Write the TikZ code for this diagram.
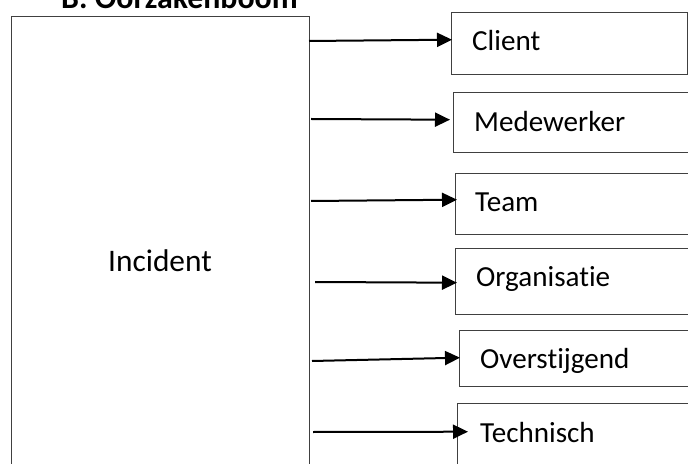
\documentclass[tikz,border=0pt]{standalone}
\usepackage{fontspec}
\setmainfont{Carlito}[Ligatures={NoCommon}]
\usetikzlibrary{arrows.meta}
\tikzset{
  box/.style={draw=black!75, line width=1.4bp, anchor=north west, inner sep=0pt, minimum width=240bp},
  lbl/.style={anchor=base west, inner sep=0pt, font=\fontsize{29.2}{35}\selectfont},
  arr/.style={line width=2bp, -{Triangle[length=15bp,width=14bp]}},
}
\begin{document}
\begin{tikzpicture}[x=1bp, y=-1bp]
            \useasboundingbox (0,0) rectangle (688,464);
            \clip (0,0) rectangle (688,464);

            % Title, cut at the top
            \node[anchor=base west, inner sep=0pt, font=\bfseries\fontsize{32}{38}\selectfont] (title) at (61,9) {B. Oorzakenboom};

            % Incident box
            \node[box, minimum width=298bp, minimum height=470bp] (incident) at (11,16) {};
            \node[anchor=base, inner sep=0pt, font=\fontsize{31.5}{38}\selectfont] (tincident) at (160,272) {Incident};

            % Cause boxes
            \node[box, minimum width=236bp, minimum height=62bp] (client) at (451,12) {};
            \node[box, minimum height=60bp] (medewerker) at (453,92) {};
            \node[box, minimum height=61bp] (team) at (455,173) {};
            \node[box, minimum height=66bp] (organisatie) at (455,248) {};
            \node[box, minimum height=56bp] (overstijgend) at (459,330) {};
            \node[box, minimum height=70bp] (technisch) at (457,403) {};

            % Labels
            \node[lbl] (tclient) at (472,51) {Client};
            \node[lbl] (tmedewerker) at (474,132) {Medewerker};
            \node[lbl] (tteam) at (475,212) {Team};
            \node[lbl] (torganisatie) at (476,287) {Organisatie};
            \node[lbl] (toverstijgend) at (480,368) {Overstijgend};
            \node[lbl] (ttechnisch) at (480,442) {Technisch};

            % Arrows from the incident box
            \foreach \n/\sx/\sy/\dx/\dy in {client/309/41/1/4, medewerker/311/119/-3/3, team/311/201/2/4.5,
                organisatie/315/282/2/-1, overstijgend/312/361/1/1, technisch/313/432/11/7}
            {
              \coordinate (s\n) at (\sx,\sy);
              \draw[arr] (s\n) -- ([shift={(\dx bp,\dy bp)}]\n.west);
            }
\end{tikzpicture}
\end{document}
